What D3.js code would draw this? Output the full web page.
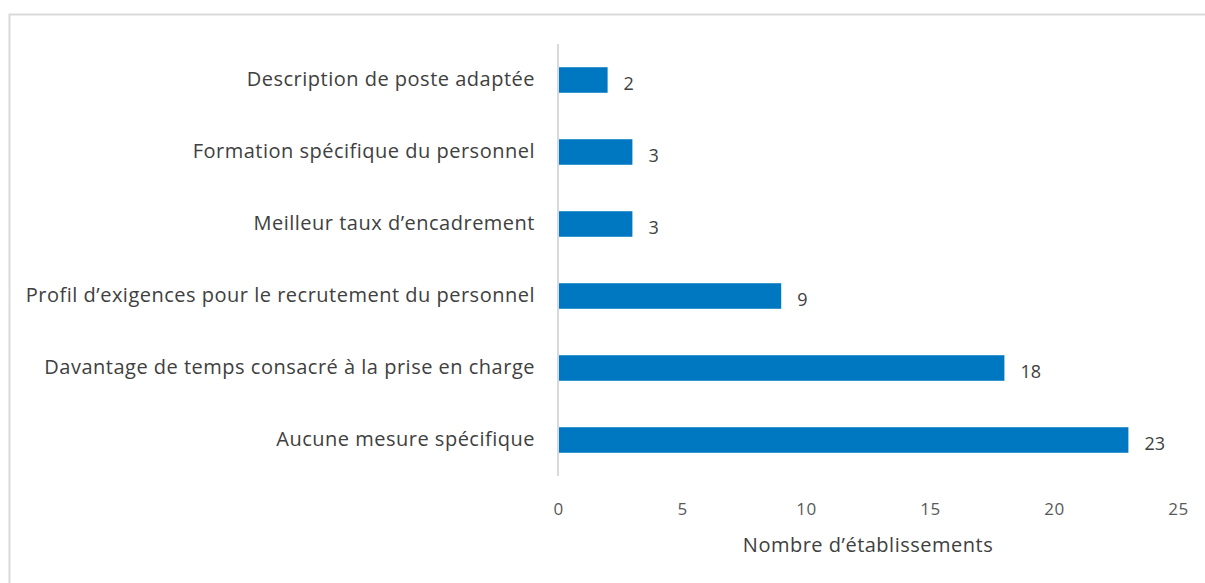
<!DOCTYPE html>
<html>
<head>
<meta charset="utf-8">
<script src="https://cdn.jsdelivr.net/npm/d3@7"></script>
<style>
  body { margin: 0; background: #fff; }
  svg { display: block; font-family: "Open Sans", Lato, sans-serif; }
</style>
</head>
<body>
<svg width="1205" height="583"></svg>
<script>
var categories = [
  'Description de poste adaptée',
  'Formation spécifique du personnel',
  'Meilleur taux d\u2019encadrement',
  'Profil d\u2019exigences pour le recrutement du personnel',
  'Davantage de temps consacré à la prise en charge',
  'Aucune mesure spécifique'
];
var values = [2, 3, 3, 9, 18, 23];
var xTicks = [0, 5, 10, 15, 20, 25];
var xTitle = 'Nombre d\u2019établissements';

var width = 1205;
var height = 583;
var margin = { top: 44, bottom: 107, left: 558, right: 27 };
var font = '"Open Sans", Lato, sans-serif';

var svg = d3.select('svg');

// chart frame
svg.append('rect')
  .attr('x', 9.5).attr('y', 14.5)
  .attr('width', width).attr('height', height)
  .attr('fill', 'none')
  .attr('stroke', '#d9d9d9')
  .attr('stroke-width', 2);

// scales
var xScale = d3.scaleLinear()
  .domain([0, 25])
  .range([margin.left, width - margin.right]);
var yScale = d3.scaleBand()
  .domain(categories)
  .range([margin.top, height - margin.bottom])
  .paddingInner(0.645)
  .paddingOuter(0.3225);

// bars
svg.append('g').selectAll('rect')
  .data(values)
  .enter().append('rect')
  .attr('x', xScale(0))
  .attr('y', (d, i) => yScale(categories[i]))
  .attr('width', d => xScale(d) - xScale(0))
  .attr('height', yScale.bandwidth())
  .attr('fill', '#0078c1');

// value labels
svg.append('g').selectAll('text')
  .data(values)
  .enter().append('text')
  .attr('x', d => xScale(d) + 16)
  .attr('y', (d, i) => yScale(categories[i]) + yScale.bandwidth() / 2 + 4)
  .attr('dy', '0.35em')
  .attr('font-size', 18)
  .attr('fill', '#404040')
  .text(d => d);

// y axis (category labels + vertical line)
var yAxis = d3.axisLeft(yScale).tickSize(0).tickPadding(23);
var gy = svg.append('g')
  .attr('transform', 'translate(' + [margin.left, 0] + ')')
  .call(yAxis);
gy.select('.domain').remove();
gy.selectAll('text')
  .attr('font-size', 20)
  .attr('letter-spacing', 0.5)
  .attr('font-family', font)
  .attr('fill', '#404040');
svg.append('line')
  .attr('x1', margin.left).attr('x2', margin.left)
  .attr('y1', margin.top).attr('y2', height - margin.bottom)
  .attr('stroke', '#d9d9d9')
  .attr('stroke-width', 2);

// x axis (labels only)
var xAxis = d3.axisBottom(xScale).tickValues(xTicks).tickSize(0).tickPadding(27);
var gx = svg.append('g')
  .attr('transform', 'translate(' + [0, height - margin.bottom] + ')')
  .call(xAxis);
gx.select('.domain').remove();
gx.selectAll('text')
  .attr('font-size', 17)
  .attr('letter-spacing', 0.5)
  .attr('font-family', font)
  .attr('fill', '#595959');

// axis title
svg.append('text')
  .attr('x', (xScale(0) + xScale(25)) / 2)
  .attr('y', 552)
  .attr('text-anchor', 'middle')
  .attr('font-size', 20)
  .attr('letter-spacing', 0.5)
  .attr('fill', '#404040')
  .text(xTitle);
</script>
</body>
</html>
